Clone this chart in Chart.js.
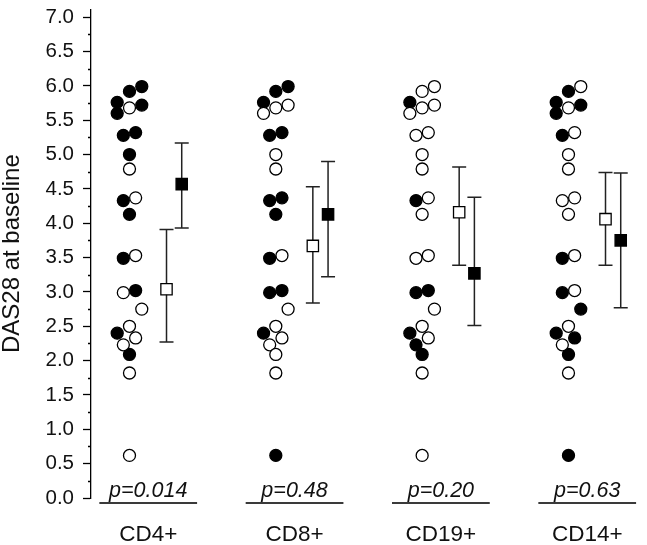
<!DOCTYPE html>
<html>
<head>
<meta charset="utf-8">
<script src="https://cdn.jsdelivr.net/npm/chart.js@4/dist/chart.umd.min.js"></script>
<style>
  html, body { margin: 0; padding: 0; background: #fff; }
  #wrap { width: 647px; height: 545px; position: relative; }
</style>
</head>
<body>
<div id="wrap"><canvas id="chart"></canvas></div>
<script>
const categories = ['CD4+', 'CD8+', 'CD19+', 'CD14+'];
const pValues = ['p=0.014', 'p=0.48', 'p=0.20', 'p=0.63'];
const yTicks = [0, 0.5, 1, 1.5, 2, 2.5, 3, 3.5, 4, 4.5, 5, 5.5, 6, 6.5, 7];

// same 25 patients in every panel; dotColumn = side-by-side slot of the dot
const das28 = [5.99, 5.92, 5.76, 5.72, 5.68, 5.60, 5.32, 5.28, 5.00, 4.79, 4.37, 4.33, 4.13,
               3.53, 3.49, 3.02, 2.99, 2.75, 2.50, 2.40, 2.33, 2.23, 2.09, 1.82, 0.62];
const dotColumn = [2, 0, -2, 2, 0, -2, 1, -1, 0, 0, 1, -1, 0, 1, -1, 1, -1, 2, 0, -2, 1, -1, 0, 0, 0];

// 1 = filled (high), 0 = open (low)
const filledCD4  = [1,1,1,1,0,1,1,1,1,0,0,1,1,0,1,1,0,0,0,1,0,0,1,0,0];
const filledCD8  = [1,1,1,0,0,0,1,1,0,0,1,1,1,0,1,1,1,0,0,1,0,0,0,0,1];
const filledCD19 = [0,0,1,0,0,0,0,0,0,0,0,1,0,0,0,1,1,0,0,1,0,1,1,0,0];
const filledCD14 = [0,1,1,1,0,1,0,1,0,0,0,0,0,0,1,0,1,1,0,1,1,0,1,0,1];

const openMean   = [3.04, 3.67, 4.16, 4.06];
const openLow    = [2.27, 2.84, 3.39, 3.39];
const openHigh   = [3.91, 4.53, 4.82, 4.74];
const filledMean = [4.57, 4.13, 3.27, 3.75];
const filledLow  = [3.93, 3.22, 2.51, 2.77];
const filledHigh = [5.17, 4.90, 4.38, 4.73];

const FONT = '"Liberation Sans", Arial, Helvetica, sans-serif';
const DOT_OFFSET = -0.128;
const COL_STEP = 0.042;
const OPEN_OFFSET = 0.125;
const FILLED_OFFSET = 0.229;
const P_LINE_HALF = 0.334;

const filledByGroup = [filledCD4, filledCD8, filledCD19, filledCD14];

function dots(flag) {
  const out = [];
  filledByGroup.forEach((flags, g) => {
    das28.forEach((v, i) => {
      if (flags[i] === flag) out.push({ x: g + 1 + DOT_OFFSET + dotColumn[i] * COL_STEP, y: v });
    });
  });
  return out;
}

function means(arr, off) {
  return arr.map((v, g) => ({ x: g + 1 + off, y: v }));
}

const extras = {
  id: 'extras',
  beforeDatasetsDraw(chart) {
    const { ctx, scales: { x, y } } = chart;
    ctx.save();
    ctx.strokeStyle = '#222';
    ctx.lineWidth = 1.5;
    const bars = [[openMean, openLow, openHigh, OPEN_OFFSET], [filledMean, filledLow, filledHigh, FILLED_OFFSET]];
    for (const [m, lo, hi, off] of bars) {
      m.forEach((_, g) => {
        const px = x.getPixelForValue(g + 1 + off);
        const y1 = y.getPixelForValue(lo[g]);
        const y2 = y.getPixelForValue(hi[g]);
        ctx.beginPath();
        ctx.moveTo(px, y1); ctx.lineTo(px, y2);
        ctx.moveTo(px - 7, y1); ctx.lineTo(px + 7, y1);
        ctx.moveTo(px - 7, y2); ctx.lineTo(px + 7, y2);
        ctx.stroke();
      });
    }
    ctx.restore();
  },
  afterDraw(chart) {
    const { ctx, chartArea, scales: { x, y } } = chart;
    ctx.save();
    // minor ticks
    ctx.strokeStyle = '#000';
    ctx.lineWidth = 1.3;
    ctx.beginPath();
    for (let i = 0; i < yTicks.length - 1; i++) {
      const py = Math.round(y.getPixelForValue((yTicks[i] + yTicks[i + 1]) / 2)) + 0.5;
      ctx.moveTo(chartArea.left - 3, py);
      ctx.lineTo(chartArea.left, py);
    }
    ctx.stroke();
    // p-value lines and text
    ctx.strokeStyle = '#3a3a3a';
    ctx.lineWidth = 2;
    ctx.fillStyle = '#111';
    ctx.font = `italic 21.5px ${FONT}`;
    ctx.textAlign = 'center';
    ctx.textBaseline = 'alphabetic';
    categories.forEach((c, g) => {
      const x1 = x.getPixelForValue(g + 1 - P_LINE_HALF);
      const x2 = x.getPixelForValue(g + 1 + P_LINE_HALF);
      const ly = chartArea.bottom + 5;
      ctx.beginPath();
      ctx.moveTo(x1, ly); ctx.lineTo(x2, ly);
      ctx.stroke();
      ctx.fillText(pValues[g], x.getPixelForValue(g + 1), chartArea.bottom - 1);
    });
    ctx.restore();
  }
};

new Chart(document.getElementById('chart'), {
  type: 'scatter',
  data: {
    datasets: [
      {
        label: 'mean low', data: means(openMean, OPEN_OFFSET),
        pointStyle: 'rect', pointRadius: 8, pointBackgroundColor: '#fff',
        pointBorderColor: '#000', pointBorderWidth: 1.3,
      },
      {
        label: 'mean high', data: means(filledMean, FILLED_OFFSET),
        pointStyle: 'rect', pointRadius: 8, pointBackgroundColor: '#000',
        pointBorderColor: '#000', pointBorderWidth: 1.3,
      },
      {
        label: 'low', data: dots(0),
        pointRadius: 6, pointBackgroundColor: '#fff',
        pointBorderColor: '#000', pointBorderWidth: 1.3,
      },
      {
        label: 'high', data: dots(1),
        pointRadius: 6, pointBackgroundColor: '#000',
        pointBorderColor: '#000', pointBorderWidth: 1.3,
      },
    ],
  },
  options: {
    responsive: true,
    maintainAspectRatio: false,
    animation: false,
    devicePixelRatio: 1,
    layout: { padding: { top: 4, right: 2, left: 0, bottom: 0 } },
    plugins: { legend: { display: false }, tooltip: { enabled: false } },
    scales: {
      x: {
        type: 'linear',
        min: 0.609,
        max: 4.345,
        afterBuildTicks: s => { s.ticks = categories.map((c, i) => ({ value: i + 1 })); },
        afterFit: s => { s.height = 47; s.paddingLeft = 0; s.paddingRight = 0; },
        ticks: {
          callback: (v, i) => categories[i],
          autoSkip: false, maxRotation: 0, minRotation: 0,
          padding: 23, color: '#111',
          font: { family: FONT, size: 22.5 },
        },
        grid: { display: false, drawTicks: false },
        border: { display: false },
      },
      y: {
        min: 0,
        max: 7.115,
        afterBuildTicks: s => { s.ticks = yTicks.map(v => ({ value: v })); },
        afterFit: s => { s.width = 91; s.paddingTop = 0; s.paddingBottom = 0; },
        ticks: {
          callback: v => v.toFixed(1),
          padding: 9, color: '#111',
          font: { family: FONT, size: 20.5 },
        },
        grid: { drawOnChartArea: false, drawTicks: true, tickLength: 8, color: '#000', tickWidth: 1.3 },
        border: { color: '#000', width: 1.3 },
        title: {
          display: true, text: 'DAS28 at baseline', color: '#111',
          font: { family: FONT, size: 24, lineHeight: 1.05 },
          padding: { top: 0, bottom: 0 },
        },
      },
    },
  },
  plugins: [extras],
});
</script>
</body>
</html>
